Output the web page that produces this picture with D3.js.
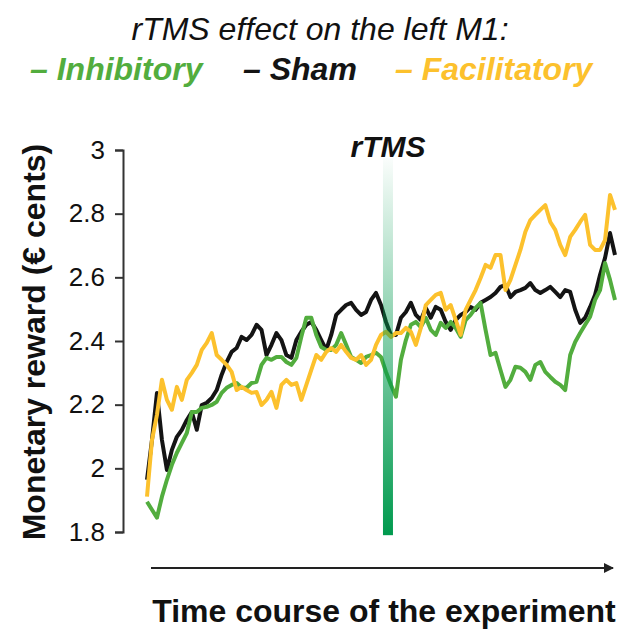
<!DOCTYPE html>
<html>
<head>
<meta charset="utf-8">
<script src="https://cdn.jsdelivr.net/npm/d3@7"></script>
<style>
  body { margin: 0; background: #fff; }
  text { font-family: "Liberation Sans", Arial, sans-serif; }
</style>
</head>
<body>
<svg id="chart" width="623" height="629"></svg>
<script>
// reward traces (euro cents), one value per time sample
const inhibitory = [
  1.895, 1.870, 1.845, 1.911, 1.964, 2.011, 2.049, 2.080, 2.111, 2.177,
  2.177, 2.190, 2.193, 2.199, 2.209, 2.237, 2.253, 2.262, 2.268, 2.253,
  2.253, 2.268, 2.272, 2.325, 2.347, 2.341, 2.350, 2.350, 2.334, 2.325,
  2.347, 2.413, 2.473, 2.473, 2.419, 2.381, 2.372, 2.372, 2.388, 2.425,
  2.388, 2.350, 2.341, 2.331, 2.350, 2.356, 2.363, 2.350, 2.303, 2.262,
  2.225, 2.341, 2.403, 2.451, 2.460, 2.444, 2.473, 2.435, 2.419, 2.457,
  2.441, 2.460, 2.441, 2.413, 2.466, 2.482, 2.504, 2.520, 2.435, 2.356,
  2.363, 2.309, 2.256, 2.278, 2.319, 2.316, 2.303, 2.278, 2.325, 2.334,
  2.303, 2.287, 2.272, 2.262, 2.246, 2.356, 2.397, 2.425, 2.451, 2.476,
  2.529, 2.560, 2.645, 2.592, 2.529
];
const sham = [
  1.964, 2.089, 2.237, 2.089, 1.995, 2.058, 2.099, 2.121, 2.152, 2.177,
  2.121, 2.199, 2.206, 2.221, 2.246, 2.294, 2.334, 2.366, 2.378, 2.413,
  2.403, 2.419, 2.451, 2.435, 2.356, 2.388, 2.425, 2.403, 2.356, 2.347,
  2.403, 2.429, 2.451, 2.460, 2.435, 2.403, 2.372, 2.419, 2.482, 2.498,
  2.513, 2.520, 2.498, 2.482, 2.491, 2.529, 2.551, 2.513, 2.460, 2.419,
  2.419, 2.473, 2.491, 2.520, 2.482, 2.466, 2.504, 2.473, 2.507, 2.498,
  2.460, 2.435, 2.466, 2.482, 2.491, 2.507, 2.498, 2.520, 2.529, 2.538,
  2.551, 2.570, 2.576, 2.538, 2.554, 2.560, 2.567, 2.582, 2.560, 2.551,
  2.560, 2.570, 2.554, 2.538, 2.560, 2.554, 2.498, 2.457, 2.473, 2.507,
  2.545, 2.608, 2.661, 2.739, 2.670
];
const facilitatory = [
  1.911, 2.089, 2.168, 2.278, 2.215, 2.184, 2.256, 2.215, 2.278, 2.300,
  2.325, 2.372, 2.394, 2.425, 2.356, 2.341, 2.325, 2.303, 2.246, 2.256,
  2.246, 2.237, 2.240, 2.199, 2.215, 2.240, 2.190, 2.262, 2.278, 2.262,
  2.268, 2.215, 2.262, 2.309, 2.356, 2.341, 2.366, 2.378, 2.366, 2.388,
  2.366, 2.347, 2.341, 2.356, 2.325, 2.341, 2.388, 2.419, 2.429, 2.413,
  2.425, 2.425, 2.441, 2.429, 2.388, 2.441, 2.513, 2.529, 2.545, 2.551,
  2.498, 2.513, 2.466, 2.419, 2.498, 2.529, 2.560, 2.598, 2.639, 2.630,
  2.670, 2.670, 2.560, 2.592, 2.639, 2.686, 2.743, 2.780, 2.796, 2.812,
  2.827, 2.774, 2.749, 2.702, 2.670, 2.727, 2.749, 2.774, 2.796, 2.702,
  2.686, 2.686, 2.717, 2.859, 2.812
];

const yTicks = [1.8, 2, 2.2, 2.4, 2.6, 2.8, 3];
const rtmsSample = 48.4; // where the stimulation happened

const seriesNames = ["Sham", "Inhibitory", "Facilitatory"];
const legendNames = ["Inhibitory", "Sham", "Facilitatory"];
const colors = { Inhibitory: "#52ad3e", Sham: "#141414", Facilitatory: "#fcc12d" };
const seriesData = { Inhibitory: inhibitory, Sham: sham, Facilitatory: facilitatory };

const svg = d3.select("#chart");

const x = d3.scaleLinear().domain([0, inhibitory.length - 1]).range([147, 615]);
const y = d3.scaleLinear().domain([1.8, 3]).range([532, 150]);

// title + legend
svg.append("text")
  .attr("x", 320).attr("y", 40)
  .attr("text-anchor", "middle")
  .style("font-size", "32px").style("font-style", "italic")
  .attr("fill", "#111")
  .text("rTMS effect on the left M1:");

const legendX = [30, 243, 395];
legendNames.forEach((name, i) => {
  svg.append("text")
    .attr("x", legendX[i]).attr("y", 80)
    .style("font-size", "32px").style("font-style", "italic").style("font-weight", "bold")
    .attr("fill", colors[name])
    .text("\u2013 " + name);
});

// y axis
const yAxis = svg.append("g")
  .attr("transform", "translate(123,0)")
  .call(d3.axisLeft(y).tickValues(yTicks).tickSize(8).tickPadding(10).tickFormat(d => String(d)));
yAxis.select(".domain").attr("stroke", "#333").attr("stroke-width", 2);
yAxis.selectAll(".tick line").attr("stroke", "#333").attr("stroke-width", 2);
yAxis.selectAll(".tick text")
  .style("font-family", "'Liberation Sans', Arial, sans-serif")
  .style("font-size", "26px").attr("fill", "#111");

svg.append("text")
  .attr("transform", "translate(45,342) rotate(-90)")
  .attr("text-anchor", "middle")
  .style("font-size", "32px").style("font-weight", "bold")
  .attr("fill", "#111")
  .text("Monetary reward (\u20ac cents)");

// traces
const line = d3.line()
  .x((d, i) => x(i))
  .y(d => y(d));

seriesNames.forEach(name => {
  svg.append("path")
    .datum(seriesData[name])
    .attr("fill", "none")
    .attr("stroke", colors[name])
    .attr("stroke-width", 4)
    .attr("stroke-linejoin", "round")
    .attr("d", line);
});

// rTMS bar
const defs = svg.append("defs");
const grad = defs.append("linearGradient")
  .attr("id", "rtmsGrad")
  .attr("x1", 0).attr("y1", 0).attr("x2", 0).attr("y2", 1);
grad.append("stop").attr("offset", "0%").attr("stop-color", "#009a4e").attr("stop-opacity", 0.02);
grad.append("stop").attr("offset", "100%").attr("stop-color", "#009a4e").attr("stop-opacity", 1);

const barTop = y(2.975), barBottom = y(1.79);
svg.append("rect")
  .attr("x", x(rtmsSample) - 5)
  .attr("y", barTop)
  .attr("width", 10)
  .attr("height", barBottom - barTop)
  .attr("fill", "url(#rtmsGrad)");

svg.append("text")
  .attr("x", x(rtmsSample)).attr("y", 157)
  .attr("text-anchor", "middle")
  .style("font-size", "30px").style("font-style", "italic").style("font-weight", "bold")
  .attr("fill", "#111")
  .text("rTMS");

// time arrow
defs.append("marker")
  .attr("id", "arrow")
  .attr("viewBox", "0 0 10 10")
  .attr("refX", 9).attr("refY", 5)
  .attr("markerWidth", 5).attr("markerHeight", 5)
  .attr("orient", "auto")
  .append("path")
  .attr("d", "M0,0L10,5L0,10Z")
  .attr("fill", "#222");

svg.append("line")
  .attr("x1", 151).attr("x2", 613)
  .attr("y1", 568).attr("y2", 568)
  .attr("stroke", "#222").attr("stroke-width", 2)
  .attr("marker-end", "url(#arrow)");

svg.append("text")
  .attr("x", 384).attr("y", 622)
  .attr("text-anchor", "middle")
  .style("font-size", "32px").style("font-weight", "bold")
  .attr("fill", "#111")
  .text("Time course of the experiment");
</script>
</body>
</html>
